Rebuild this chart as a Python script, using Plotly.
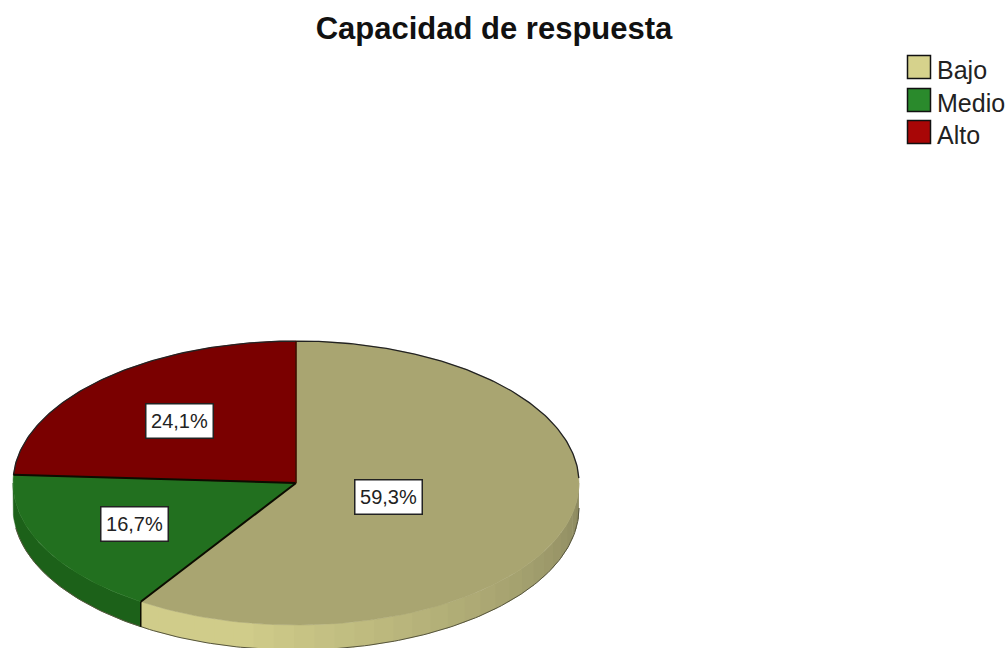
import numpy as np
import plotly.graph_objects as go

TITLE = 'Capacidad de respuesta'
CATEGORIES = ['Bajo', 'Medio', 'Alto']
PERCENTS = [59.3, 16.7, 24.1]
LABELS = ['59,3%', '16,7%', '24,1%']

FACE_COLORS = ['#a9a571', '#22701f', '#7a0000']
LEGEND_COLORS = ['#d6d28c', '#2a8a2c', '#a80606']
WALL_GREEN = '#1c6119'

# pie geometry in picture pixels
CX, CY = 296, 483
RX, RY = 283, 142
DEPTH = 25
LABEL_RADIUS = [0.34, 0.64, 0.60]


def rim(deg):
    """Point on the top ellipse, degrees clockwise from 12 o'clock."""
    a = np.radians(deg)
    return CX + RX * np.sin(a), CY - RY * np.cos(a)


def poly(xs, ys, color):
    return go.Scatter(x=xs, y=ys, mode='lines', fill='toself', fillcolor=color,
                      line=dict(color=color, width=0.5), hoverinfo='skip', showlegend=False)


def edge(xs, ys, color='#111111', width=1.5):
    return go.Scatter(x=xs, y=ys, mode='lines', line=dict(color=color, width=width),
                      hoverinfo='skip', showlegend=False)


def wall(a0, a1, color):
    t = np.linspace(a0, a1, 40)
    x, y = rim(t)
    return poly(np.r_[x, x[::-1]], np.r_[y, y[::-1] + DEPTH], color)


def mix(c0, c1, f):
    return 'rgb(%d,%d,%d)' % tuple(c0[i] + (c1[i] - c0[i]) * f for i in range(3))


# slices run clockwise from the top: Bajo, Medio, Alto
edges = np.cumsum([0] + PERCENTS) / sum(PERCENTS) * 360
traces = []

# side wall, only the front half shows
steps = np.linspace(90, edges[1], 31)
for i in range(len(steps) - 1):
    f = min(1, i / 24)
    traces.append(wall(steps[i], steps[i + 1] + 0.3, mix((140, 137, 96), (208, 204, 138), f)))
traces.append(wall(edges[1], 270, WALL_GREEN))

# top faces
for i, color in enumerate(FACE_COLORS):
    t = np.linspace(edges[i], edges[i + 1], 120)
    x, y = rim(t)
    traces.append(poly(np.r_[CX, x, CX], np.r_[CY, y, CY], color))

# outlines
t = np.linspace(edges[2], 448, 200)
traces.append(edge(*rim(t), color='#222222', width=1.3))
t = np.linspace(90, 270, 200)
x, y = rim(t)
mask = t <= 262
traces.append(edge(x[mask], y[mask] + DEPTH, color='#55543c', width=1))
for a in edges[1:3]:
    x, y = rim(a)
    traces.append(edge([CX, x], [CY, y], color='#0c0c00', width=2))
traces.append(edge([CX, CX], [CY, CY - RY], color='#3a1000', width=1.5))
x, y = rim(edges[1])
traces.append(edge([x, x], [y, y + DEPTH], color='#0c0c00', width=1.5))

# legend
traces.append(go.Scatter(
    x=[919] * 3, y=[67, 100, 132], mode='markers',
    marker=dict(symbol='square', size=23, color=LEGEND_COLORS, line=dict(color='#111111', width=1.5)),
    hoverinfo='skip', showlegend=False,
))
traces.append(go.Scatter(
    x=[937] * 3, y=[73, 106, 138], mode='text', text=CATEGORIES,
    textposition='middle right',
    textfont=dict(family='Liberation Sans', size=25, color='#222222'),
    hoverinfo='skip', showlegend=False,
))

fig = go.Figure(traces)

# percentage boxes
for i, label in enumerate(LABELS):
    mid = (edges[i] + edges[i + 1]) / 2
    a = np.radians(mid)
    fig.add_annotation(
        x=CX + RX * LABEL_RADIUS[i] * np.sin(a),
        y=CY - RY * LABEL_RADIUS[i] * np.cos(a),
        text=label, showarrow=False, width=64, height=31,
        bgcolor='white', bordercolor='#222222', borderwidth=1.5, borderpad=1,
        font=dict(family='Liberation Sans', size=20, color='#222222'),
    )

fig.update_layout(
    width=1008, height=648, margin=dict(l=0, r=0, t=0, b=0),
    paper_bgcolor='white', plot_bgcolor='white', showlegend=False,
    xaxis=dict(range=[0, 1008], visible=False, fixedrange=True),
    yaxis=dict(range=[648, 0], visible=False, fixedrange=True),
    title=dict(text='<b>' + TITLE + '</b>', x=494 / 1008, xanchor='center', y=1 - 28 / 648, yanchor='middle',
               font=dict(family='Liberation Sans', size=31, color='#111111')),
)
# page margin would push the figure 8px off
fig.write_html('out.html', config={'displayModeBar': False},
               post_script="document.body.style.margin='0';")
